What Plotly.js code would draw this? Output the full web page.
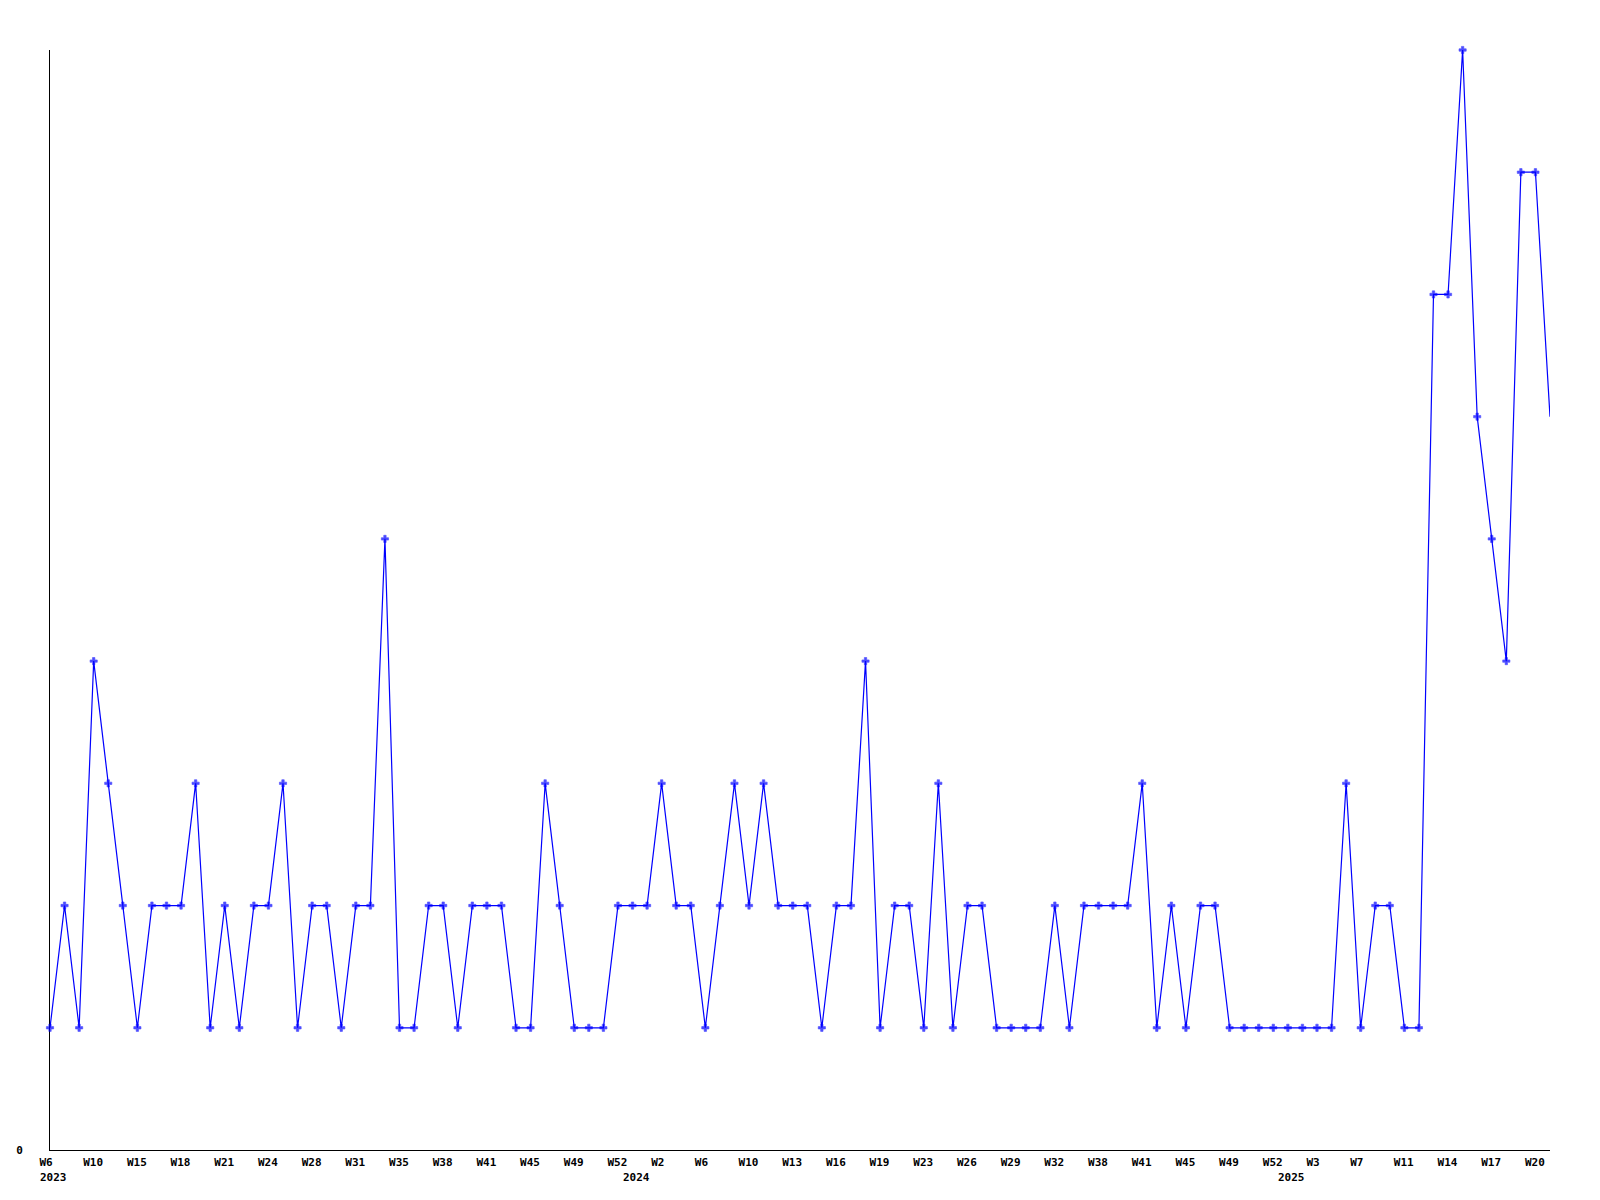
<!DOCTYPE html>
<html>
<head>
<meta charset="utf-8">
<script src="https://cdn.plot.ly/plotly-3.0.1.min.js"></script>
<style>
  html, body { margin: 0; padding: 0; background: #ffffff; }
  #chart { width: 1600px; height: 1200px; }
</style>
</head>
<body>
<div id="chart"></div>
<script>
// week numbers present in the data, per year
const weeks2023 = [6,7,8,10,12,13,15,16,17,18,19,20,21,22,23,24,25,26,28,29,30,31,32,33,35,36,37,38,39,40,41,42,43,45,46,47,49,50,51,52];
const weeks2024 = [0,1,2,3,4,6,7,8,10,11,12,13,14,15,16,17,18,19,20,21,23,24,25,26,27,28,29,30,31,32,34,36,38,39,40,41,42,43,45,46,47,49,50,51,52];
const weeks2025 = [1,2,3,4,5,7,8,9,11,12,13,14,15,16,17,18,19,20,21];

// weekly counts, one per week above (in order)
const counts = [
  1,2,1,4,3,2,1,2,2,2,
  3,1,2,1,2,2,3,1,2,2,
  1,2,2,5,1,1,2,2,1,2,
  2,2,1,1,3,2,1,1,1,2,
  2,2,3,2,2,1,2,3,2,3,
  2,2,2,1,2,2,4,1,2,2,
  1,3,1,2,2,1,1,1,1,2,
  1,2,2,2,2,3,1,2,1,2,
  2,1,1,1,1,1,1,1,1,3,
  1,2,2,1,1,7,7,9,6,5,
  4,8,8,6
];

const yearNames = ['2023', '2024', '2025'];
const yearWeeks = [weeks2023, weeks2024, weeks2025];
const yTickLabels = ['0'];
const tickEvery = 3;

// build categories
const categories = [];
const weekLabels = [];
const yearStarts = [];
yearWeeks.forEach((wk, yi) => {
  yearStarts.push({ cat: yearNames[yi] + '-W' + wk[0], text: yearNames[yi] });
  wk.forEach(w => {
    categories.push(yearNames[yi] + '-W' + w);
    weekLabels.push('W' + w);
  });
});

const tickvals = [];
const ticktext = [];
categories.forEach((c, i) => {
  if (i % tickEvery === 0) { tickvals.push(c); ticktext.push(weekLabels[i]); }
});

const sizes = counts.map((_, i) => i === counts.length - 1 ? 0 : 6);

const trace = {
  type: 'scatter',
  mode: 'lines+markers',
  x: categories,
  y: counts,
  line: { color: '#0000ff', width: 1.2 },
  marker: { color: '#0000ff', symbol: 'cross', size: sizes, line: { width: 0.6, color: '#0000ff' } },
  cliponaxis: false,
  hoverinfo: 'x+y'
};

const fontBase = { family: 'DejaVu Sans Mono, monospace', size: 11, color: '#000000', weight: 'bold' };

const layout = {
  width: 1600,
  height: 1200,
  margin: { l: 50, r: 50, t: 50, b: 50, pad: 0 },
  paper_bgcolor: '#ffffff',
  plot_bgcolor: '#ffffff',
  showlegend: false,
  font: fontBase,
  xaxis: {
    type: 'category',
    categoryorder: 'array',
    categoryarray: categories,
    range: [0, categories.length - 1],
    showgrid: false,
    zeroline: false,
    showline: true,
    linecolor: '#000000',
    linewidth: 1,
    layer: 'below traces',
    ticks: '',
    tickmode: 'array',
    tickvals: tickvals,
    ticktext: ticktext,
    tickangle: 0,
    ticklabelposition: 'outside right',
    ticklabelshift: -11,
    ticklabelstandoff: 2,
    tickfont: fontBase
  },
  yaxis: {
    range: [0, 9],
    showgrid: false,
    zeroline: false,
    showline: true,
    linecolor: '#000000',
    linewidth: 1,
    layer: 'below traces',
    ticks: '',
    tickmode: 'array',
    tickvals: [0],
    ticktext: yTickLabels,
    ticklabelstandoff: 24,
    tickfont: fontBase
  },
  annotations: yearStarts.map(y => ({
    x: y.cat,
    xref: 'x',
    y: 0,
    yref: 'paper',
    text: y.text,
    showarrow: false,
    xanchor: 'left',
    yanchor: 'middle',
    xshift: -12,
    yshift: -27,
    font: fontBase
  }))
};

Plotly.newPlot('chart', [trace], layout, { displayModeBar: false, staticPlot: true });
</script>
</body>
</html>
